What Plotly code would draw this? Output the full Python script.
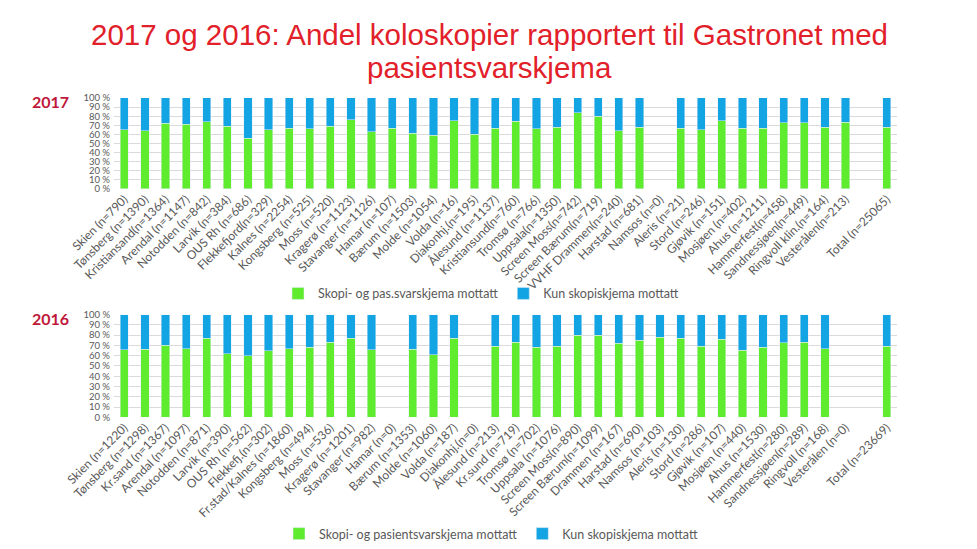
import plotly.graph_objects as go

# page body has an 8px default margin, so the figure is sized to fit inside the window
OFF = 8
W, H = 977 - OFF, 549 - OFF

cats_2017 = ["Skien (n=790)", "Tønsberg (n=1390)", "Kristiansand(n=1364)", "Arendal (n=1147)",
             "Notodden (n=842)", "Larvik (n=384)", "OUS Rh (n=686)", "Flekkefjord(n=329)",
             "Kalnes (n=2254)", "Kongsberg (n=525)", "Moss (n=520)", "Kragerø (n=1123)",
             "Stavanger (n=1126)", "Hamar (n=107)", "Bærum (n=1503)", "Molde (n=1054)",
             "Volda (n=16)", "Diakonhj.(n=195)", "Ålesund (n=1137)", "Kristiansund(n=760)",
             "Tromsø (n=766)", "Uppsala(n=1350)", "Screen Moss(n=742)", "Screen Bærum(n=719)",
             "VVHF Drammen(n=240)", "Harstad (n=681)", "Namsos (n=0)", "Aleris (n=21)",
             "Stord (n=246)", "Gjøvik (n=151)", "Mosjøen (n=402)", "Ahus (n=1211)",
             "Hammerfest(n=458)", "Sandnessjøen(n=449)", "Ringvoll klin.(n=164)", "Vesterålen(n=213)",
             " ", "Total (n=25065)"]
green_2017 = [65, 64, 72, 71, 74, 69, 56, 65, 67, 66, 69, 76, 63, 67, 61.5, 59, 75, 60, 67, 74.5,
              66, 68, 84, 80, 64, 68, None, 67, 65, 75, 67, 67, 73, 73, 68, 73.5, None, 68]

cats_2016 = ["Skien (n=1220)", "Tønsberg (n=1298)", "Kr.sand (n=1367)", "Arendal (n=1097)",
             "Notodden (n=871)", "Larvik (n=390)", "OUS Rh (n=562)", "Flekkefj.(n=302)",
             "Fr.stad/Kalnes (n=1860)", "Kongsberg (n=494)", "Moss (n=536)", "Kragerø (n=1201)",
             "Stavanger (n=982)", "Hamar (n=0)", "Bærum (n=1353)", "Molde (n=1060)",
             "Volda (n=187)", "Diakonhj.(n=0)", "Ålesund (n=213)", "Kr.sund (n=719)",
             "Tromsø (n=702)", "Uppsala (n=1076)", "Screen Moss(n=890)", "Screen Bærum(n=1099)",
             "Drammen (n=167)", "Harstad (n=690)", "Namsos (n=103)", "Aleris (n=130)",
             "Stord (n=286)", "Gjøvik (n=107)", "Mosjøen (n=440)", "Ahus (n=1530)",
             "Hammerfest(n=280)", "Sandnessjøen(n=289)", "Ringvoll (n=168)", "Vesterålen (n=0)",
             " ", "Total (n=23669)"]
green_2016 = [66, 66.5, 70, 67, 77, 62, 60, 65, 67, 68, 73, 77, 66, None, 66.5, 61, 77, None, 69, 73,
              68, 69, 80, 80, 72, 75, 78, 77, 69, 76, 65.5, 68, 72.5, 73, 67, None, None, 69]

blue_2017 = [None if g is None else 100 - g for g in green_2017]
blue_2016 = [None if g is None else 100 - g for g in green_2016]

y_ticks = list(range(0, 101, 10))
y_ticktext = [f"{v} %" for v in y_ticks]

GREEN = "#5fec2f"
BLUE = "#13a5e3"
GRID = "#dadada"
TXT = "#595959"

fig = go.Figure()
fig.add_trace(go.Bar(x=cats_2017, y=green_2017, name="Skopi- og pas.svarskjema mottatt",
                     marker_color=GREEN, xaxis="x", yaxis="y", legend="legend"))
fig.add_trace(go.Bar(x=cats_2017, y=blue_2017, name="Kun skopiskjema mottatt",
                     marker_color=BLUE, xaxis="x", yaxis="y", legend="legend"))
fig.add_trace(go.Bar(x=cats_2016, y=green_2016, name="Skopi- og pasientsvarskjema mottatt",
                     marker_color=GREEN, xaxis="x2", yaxis="y2", legend="legend2"))
fig.add_trace(go.Bar(x=cats_2016, y=blue_2016, name="Kun skopiskjema mottatt",
                     marker_color=BLUE, xaxis="x2", yaxis="y2", legend="legend2"))

def fx(p):
    return (p - OFF) / W

def fy(p):
    return 1 - (p - OFF) / H

xdom = [fx(114), fx(897)]
axis_x = dict(type="category", tickangle=-45, showgrid=False, showline=False,
              ticks="", tickfont=dict(family="Lato", size=12, color=TXT), automargin=False)
axis_y = dict(range=[0, 100], tickmode="array", tickvals=y_ticks, ticktext=y_ticktext,
              showgrid=True, gridcolor=GRID, gridwidth=1, zeroline=False,
              tickfont=dict(family="Lato", size=9.5, color=TXT),
              automargin=False, ticklabelstandoff=3)

fig.update_layout(
    width=W, height=H, margin=dict(l=0, r=0, t=0, b=0),
    paper_bgcolor="white", plot_bgcolor="white",
    barmode="stack", bargap=0.6,
    xaxis=dict(axis_x, domain=xdom, anchor="y", categoryorder="array", categoryarray=cats_2017),
    yaxis=dict(axis_y, domain=[fy(191), fy(99)], anchor="x"),
    xaxis2=dict(axis_x, domain=xdom, anchor="y2", categoryorder="array", categoryarray=cats_2016),
    yaxis2=dict(axis_y, domain=[fy(422), fy(318)], anchor="x2"),
    legend=dict(orientation="h", x=fx(481), xanchor="center", y=fy(297), yanchor="middle",
                font=dict(family="Lato", size=12.5, color=TXT), itemwidth=30, traceorder="normal",
                bgcolor="rgba(0,0,0,0)"),
    legend2=dict(orientation="h", x=fx(491), xanchor="center", y=fy(540), yanchor="middle",
                 font=dict(family="Lato", size=12.5, color=TXT), itemwidth=30, traceorder="normal",
                 bgcolor="rgba(0,0,0,0)"),
    annotations=[
        dict(text="2017 og 2016: Andel koloskopier rapportert til Gastronet med",
             x=fx(489), y=fy(35), xref="paper", yref="paper", xanchor="center", yanchor="middle",
             showarrow=False, font=dict(family="Liberation Sans", size=29.5, color="#e2202a")),
        dict(text="pasientsvarskjema",
             x=fx(489), y=fy(68), xref="paper", yref="paper", xanchor="center", yanchor="middle",
             showarrow=False, font=dict(family="Liberation Sans", size=29.5, color="#e2202a")),
        dict(text="2017", x=fx(30), y=fy(103), xref="paper", yref="paper", xanchor="left",
             yanchor="middle", showarrow=False,
             font=dict(family="Lato", size=16, color="#c0183a", weight="bold")),
        dict(text="2016", x=fx(30), y=fy(322), xref="paper", yref="paper", xanchor="left",
             yanchor="middle", showarrow=False,
             font=dict(family="Lato", size=16, color="#c0183a", weight="bold")),
    ],
    showlegend=True,
)

fig.write_html("out.html")
